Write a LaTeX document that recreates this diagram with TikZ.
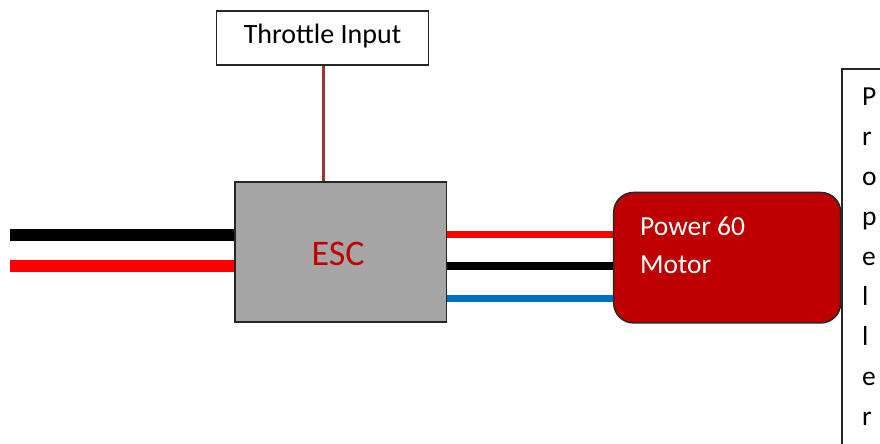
\documentclass[tikz,border=0pt]{standalone}
\usepackage{fontspec}
\setmainfont{Carlito}
\definecolor{motorred}{HTML}{BD0000}
\definecolor{escgrey}{HTML}{A6A6A6}
\definecolor{thrline}{HTML}{953735}
\definecolor{wireblue}{HTML}{0070C0}
\definecolor{wirered}{HTML}{FF0000}
\definecolor{labelred}{HTML}{C00000}
\tikzset{
  box/.style={draw=black!85,line width=1.9pt,inner sep=0pt,anchor=center},
  thickwire/.style={line width=12pt},
  thinwire/.style={line width=7pt},
}
\begin{document}
\begin{tikzpicture}[x=1pt,y=-1pt]
\useasboundingbox (0,0) rectangle (880,444);
\clip (0,0) rectangle (880,444);
\fill[white] (0,0) rectangle (880,444);
% free ends and wire levels
\coordinate (bl) at (10,235);
\coordinate (rl) at (10,265.5);
\coordinate (tx) at (323.5,100);
\coordinate (w1) at (530,234.5);
\coordinate (w2) at (530,265.5);
\coordinate (w3) at (530,298.5);
% boxes
\node[box,minimum width=212pt,minimum height=54pt] (thr) at (322.5,38.25) {};
\node[inner sep=0pt,font=\fontsize{28}{30}\selectfont] (thrtext) at (322.5,36.5) {Throttle Input};
\node[box,fill=escgrey,minimum width=211.5pt,minimum height=140pt] (esc) at (340.75,252) {};
\node[inner sep=0pt,text=labelred,font=\fontsize{36}{38}\selectfont] (esctext) at (338,254) {ESC};
\node[box,fill=motorred,line width=1.5pt,rounded corners=20pt,minimum width=227pt,minimum height=130.5pt] (motor) at (727.2,257.7) {};
\node[box,line width=1.6pt,minimum width=80pt,minimum height=420pt] (prop) at (882,279) {};
\node[anchor=north west,inner sep=0pt,align=left,font=\fontsize{27.5}{40}\selectfont] (proptext) at (862,88) {P\\r\\o\\p\\e\\l\\l\\e\\r};
\node[anchor=west,inner sep=0pt,align=left,text=white,font=\fontsize{27.5}{38}\selectfont] (motortext) at (640,245) {Power 60\\Motor};
% wires
\draw[thickwire,black] (bl) -- (bl -| esc.west);
\draw[thickwire,wirered] (rl) -- (rl -| esc.west);
\draw[thinwire,wirered] (w1 -| esc.east) -- (w1 -| motor.west);
\draw[thinwire,line width=8pt,black] (w2 -| esc.east) -- (w2 -| motor.west);
\draw[thinwire,wireblue] (w3 -| esc.east) -- (w3 -| motor.west);
\draw[line width=3pt,thrline] (thr.south -| tx) -- (esc.north -| tx);
\end{tikzpicture}
\end{document}
